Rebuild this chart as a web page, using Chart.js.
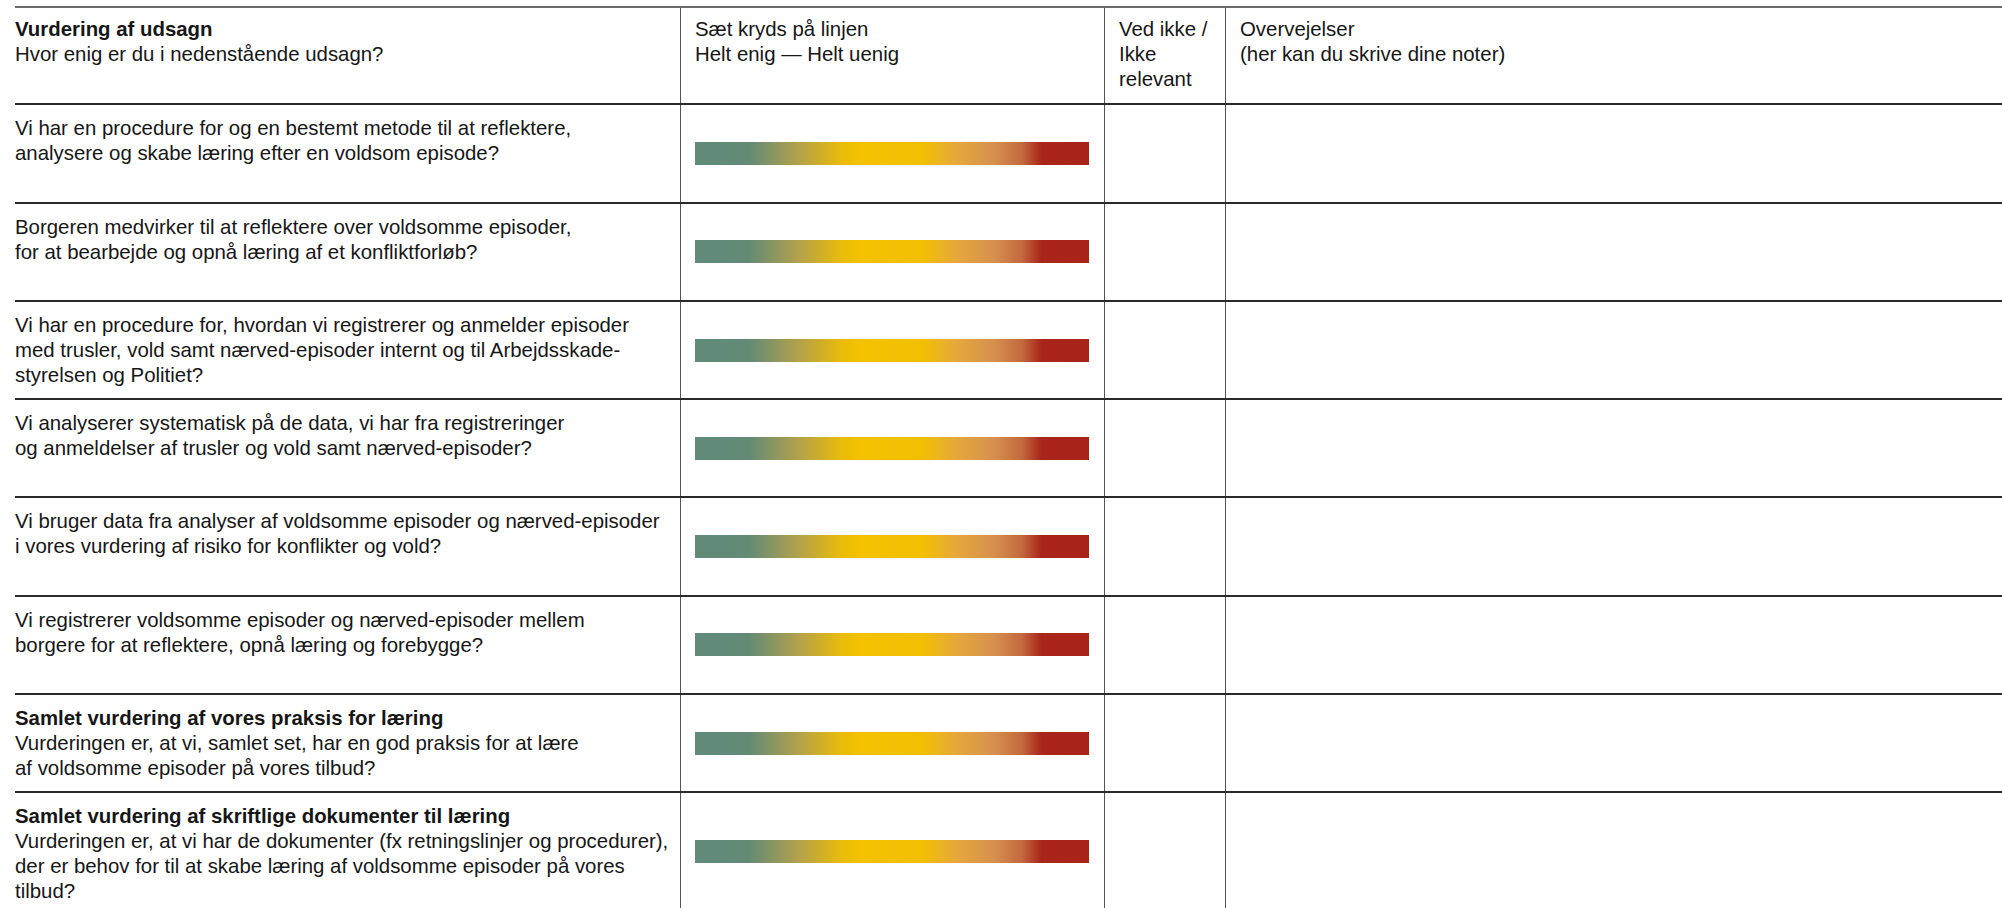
<!DOCTYPE html>
<html lang="da">
<head>
<meta charset="utf-8">
<title>Vurdering af udsagn</title>
<script src="https://cdn.jsdelivr.net/npm/chart.js@4.4.1/dist/chart.umd.min.js"></script>
<style>
  html, body { margin: 0; padding: 0; background: #fff; }
  body { width: 2002px; height: 908px; overflow: hidden; position: relative;
         font-family: 'Liberation Sans', Arial, sans-serif; font-size: 20.4px; line-height: 25px; color: #161616; }
  #form { position: absolute; left: 15px; top: 5.5px; width: 1987px; }
  .row { display: grid; grid-template-columns: 665px 424px 121px 777px; box-sizing: border-box;
         height: 98.3px; border-top: 2px solid #2a2a2a; }
  .row.head { height: 97.8px; border-top-color: #6a6a6a; }
  .row.last { height: 118px; }
  .cell { box-sizing: border-box; white-space: nowrap; padding-top: 11px; }
  .row.head .cell { padding-top: 9px; }
  .cell + .cell { border-left: 1.5px solid #555; padding-left: 14px; }
  .cell.scale { display: flex; align-items: center; padding-top: 0; }
  .row.head .cell.scale { display: block; padding-top: 9px; }
  .bar-box { width: 394px; height: 23px; position: relative; }
  b { font-weight: bold; }
</style>
</head>
<body>
<div id="form"></div>
<script>
// === Vurdering af udsagn — skema med farveskala ===

const headTitle = 'Vurdering af udsagn';
const headSub = 'Hvor enig er du i nedenstående udsagn?';
const scaleHeader = ['Sæt kryds på linjen', 'Helt enig — Helt uenig'];
const naHeader = ['Ved ikke /', 'Ikke', 'relevant'];
const notesHeader = ['Overvejelser', '(her kan du skrive dine noter)'];

const statementTitles = ['', '', '', '', '', '',
  'Samlet vurdering af vores praksis for læring',
  'Samlet vurdering af skriftlige dokumenter til læring'];

const statementLines = [
  ['Vi har en procedure for og en bestemt metode til at reflektere,',
   'analysere og skabe læring efter en voldsom episode?'],
  ['Borgeren medvirker til at reflektere over voldsomme episoder,',
   'for at bearbejde og opnå læring af et konfliktforløb?'],
  ['Vi har en procedure for, hvordan vi registrerer og anmelder episoder',
   'med trusler, vold samt nærved-episoder internt og til Arbejdsskade-',
   'styrelsen og Politiet?'],
  ['Vi analyserer systematisk på de data, vi har fra registreringer',
   'og anmeldelser af trusler og vold samt nærved-episoder?'],
  ['Vi bruger data fra analyser af voldsomme episoder og nærved-episoder',
   'i vores vurdering af risiko for konflikter og vold?'],
  ['Vi registrerer voldsomme episoder og nærved-episoder mellem',
   'borgere for at reflektere, opnå læring og forebygge?'],
  ['Vurderingen er, at vi, samlet set, har en god praksis for at lære',
   'af voldsomme episoder på vores tilbud?'],
  ['Vurderingen er, at vi har de dokumenter (fx retningslinjer og procedurer),',
   'der er behov for til at skabe læring af voldsomme episoder på vores',
   'tilbud?'],
];

// scale runs from "Helt enig" (0) to "Helt uenig" (100)
const scaleMin = 0;
const scaleMax = 100;
const barValues = [100, 100, 100, 100, 100, 100, 100, 100];

// green -> yellow -> red
const GRADIENT = [
  [0.00, '#618a78'], [0.135, '#628a77'], [0.26, '#b0a14c'], [0.37, '#e9bb0a'],
  [0.42, '#f4c200'], [0.58, '#f2bf05'], [0.66, '#e6a93a'], [0.76, '#d6904e'],
  [0.83, '#c3683e'], [0.88, '#a9241a'], [1.00, '#a9231a'],
];

function lines(arr) {
  return arr.join('<br>');
}

function buildForm() {
  const form = document.getElementById('form');
  let html = `
    <div class="row head">
      <div class="cell"><b>${headTitle}</b><br>${headSub}</div>
      <div class="cell scale">${lines(scaleHeader)}</div>
      <div class="cell">${lines(naHeader)}</div>
      <div class="cell">${lines(notesHeader)}</div>
    </div>`;
  statementLines.forEach((txt, i) => {
    const title = statementTitles[i] ? `<b>${statementTitles[i]}</b><br>` : '';
    const cls = i === statementLines.length - 1 ? 'row last' : 'row';
    html += `
    <div class="${cls}">
      <div class="cell">${title}${lines(txt)}</div>
      <div class="cell scale"><div class="bar-box"><canvas id="bar-${i}"></canvas></div></div>
      <div class="cell"></div>
      <div class="cell"></div>
    </div>`;
  });
  form.innerHTML = html;
}

function gradientFill(context) {
  const chart = context.chart;
  const area = chart.chartArea;
  if (!area) return null;
  const g = chart.ctx.createLinearGradient(area.left, 0, area.right, 0);
  GRADIENT.forEach(([stop, color]) => g.addColorStop(stop, color));
  return g;
}

function createBar(i) {
  const ctx = document.getElementById('bar-' + i).getContext('2d');
  return new Chart(ctx, {
    type: 'bar',
    data: {
      labels: [''],
      datasets: [{
        data: [barValues[i]],
        backgroundColor: gradientFill,
        borderWidth: 0,
        barPercentage: 1,
        categoryPercentage: 1,
      }],
    },
    options: {
      indexAxis: 'y',
      responsive: true,
      maintainAspectRatio: false,
      animation: false,
      layout: { padding: 0 },
      plugins: { legend: { display: false }, tooltip: { enabled: false } },
      scales: {
        x: { display: false, min: scaleMin, max: scaleMax },
        y: { display: false },
      },
    },
  });
}

buildForm();
barValues.forEach((v, i) => createBar(i));
</script>
</body>
</html>
